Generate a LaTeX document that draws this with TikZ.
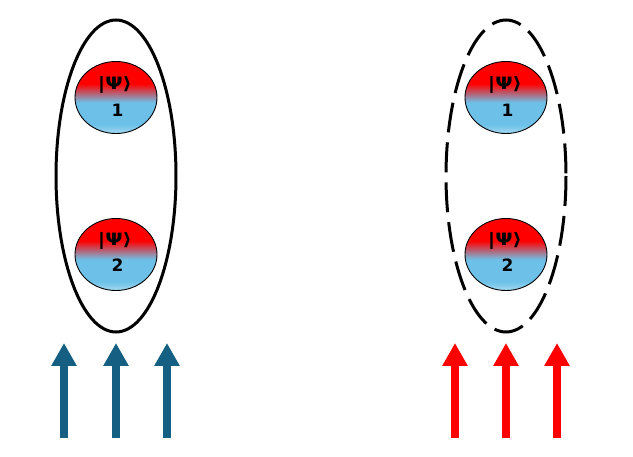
\documentclass[tikz,border=0pt]{standalone}
\usepackage{fontspec}
\setmainfont{DejaVu Sans}
\usetikzlibrary{arrows.meta,shapes.geometric}
\definecolor{arrblue}{HTML}{156082}
\definecolor{ballred}{HTML}{FF0000}
\definecolor{ballblue}{HTML}{6DC1E8}
\definecolor{balllight}{HTML}{A6DAF2}
\pgfdeclareverticalshading{ballshade}{100bp}{color(0bp)=(balllight); color(25bp)=(balllight); color(31bp)=(ballblue); color(46.5bp)=(ballblue); color(59.5bp)=(ballred); color(75bp)=(ballred); color(100bp)=(ballred)}
\tikzset{
  ball/.style={shape=ellipse, draw=black, line width=0.9pt, shading=ballshade, minimum width=82pt, minimum height=72pt, inner sep=0pt},
  bigring/.style={draw=black, line width=3pt},
  dashring/.style={bigring, dash pattern=on 30pt off 10pt},
  upblue/.style={draw=arrblue, line width=8pt, -{Triangle[width=24pt,length=23pt]}},
  upred/.style={upblue, draw=red},
  balltext/.style={font=\bfseries\fontsize{17}{19}\selectfont, inner sep=0pt, anchor=base},
  kettext/.style={balltext, xscale=1.2}
}
\begin{document}
\begin{tikzpicture}[x=1pt,y=-1pt]
\useasboundingbox (0,0) rectangle (633,457);
% left group
\draw[bigring] (116,176) ellipse [x radius=60, y radius=156];
\node[ball] (l1) at (116,97.5) {};
\node[kettext] (l1k) at (115,90) {|Ψ⟩};
\node[balltext] (l1n) at (117.5,117) {1};
\node[ball] (l2) at (116,254.5) {};
\node[kettext] (l2k) at (115,246) {|Ψ⟩};
\node[balltext] (l2n) at (117.5,272) {2};
% right group
\draw[dashring] (506,176) ellipse [x radius=60, y radius=156];
\node[ball] (r1) at (506,97.5) {};
\node[kettext] (r1k) at (505,90) {|Ψ⟩};
\node[balltext] (r1n) at (507.5,117) {1};
\node[ball] (r2) at (506,254.5) {};
\node[kettext] (r2k) at (505,246) {|Ψ⟩};
\node[balltext] (r2n) at (507.5,272) {2};
% arrows
\foreach \i/\x in {1/64,2/116,3/167}{
  \coordinate (lb\i) at (\x,438);
  \coordinate (lt\i) at (\x,343);
  \draw[upblue] (lb\i) -- (lt\i);
}
\foreach \i/\x in {1/455,2/506,3/557}{
  \coordinate (rb\i) at (\x,438);
  \coordinate (rt\i) at (\x,343);
  \draw[upred] (rb\i) -- (rt\i);
}
\end{tikzpicture}
\end{document}
